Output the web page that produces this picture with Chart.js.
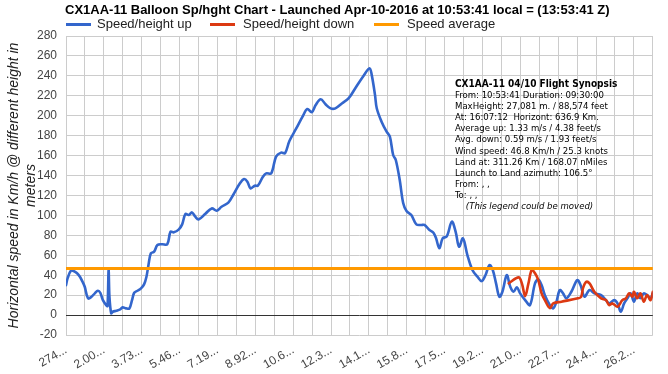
<!DOCTYPE html>
<html>
<head>
<meta charset="utf-8">
<script src="https://cdn.jsdelivr.net/npm/chart.js@4.4.1/dist/chart.umd.min.js"></script>
<style>
  html, body { margin: 0; padding: 0; background: #fff; }
  #wrap { position: relative; width: 668px; height: 374px; overflow: hidden; }
  #chart { position: absolute; left: 0; top: 0; }
  .title { position: absolute; left: 65px; top: 2px; font: bold 13px "Liberation Sans", Arial, sans-serif; color: #000; white-space: nowrap; }
  .leg { position: absolute; top: 16px; font: 13px "Liberation Sans", Arial, sans-serif; color: #222; white-space: nowrap; }
  .leg i { position: absolute; left: 0; top: 7px; width: 25px; height: 3px; }
  .leg span { position: absolute; top: 0; white-space: nowrap; }
  .synopsis { position: absolute; left: 455px; top: 78px; font: 9.5px "DejaVu Sans Condensed", "DejaVu Sans", sans-serif; line-height: 11.1px; color: #000; white-space: pre; }
  .synopsis b { font-weight: bold; font-size: 10px; }
</style>
</head>
<body>
<div id="wrap">
  <canvas id="chart" width="668" height="374"></canvas>
  <div class="title">CX1AA-11 Balloon Sp/hght Chart - Launched Apr-10-2016 at 10:53:41 local = (13:53:41 Z)</div>
  <div class="leg" style="left:66px"><i style="background:#3366cc"></i><span style="left:31px">Speed/height up</span></div>
  <div class="leg" style="left:210px"><i style="background:#dc3912"></i><span style="left:33px">Speed/height down</span></div>
  <div class="leg" style="left:374px"><i style="background:#ff9900"></i><span style="left:33px">Speed average</span></div>
  <div class="synopsis"><b>CX1AA-11 04/10 Flight Synopsis</b>
From: 10:53:41 Duration: 09:30:00
MaxHeight: 27,081 m. / 88,574 feet
At: 16:07:12  Horizont: 636.9 Km.
Average up: 1.33 m/s / 4.38 feet/s
Avg. down: 0.59 m/s / 1.93 feet/s
Wind speed: 46.8 Km/h / 25.3 knots
Land at: 311.26 Km / 168.07 nMiles
Launch to Land azimuth: 106.5°
From: , ,
To: , ,
    <em>(This legend could be moved)</em></div>
</div>
<script>
// height in meters, speed in km/h
const upHeights = [274, 350, 500, 640, 780, 910, 1030, 1130, 1280, 1440, 1590, 1730, 1840, 1960, 2110, 2170, 2220, 2260, 2340, 2410,
  2570, 2750, 2860, 3020, 3170, 3290, 3390, 3540, 3700, 3840, 3950, 4040, 4150, 4300, 4450, 4670, 4900, 5050, 5200, 5430,
  5580, 5730, 5880, 6030, 6180, 6330, 6630, 6930, 7160, 7380, 7690, 7910, 8220, 8410, 8560, 8700, 8900, 9040, 9270, 9420,
  9650, 9870, 10100, 10280, 10480, 10780, 11080, 11300, 11500, 11680, 11910, 12130, 12360, 12580, 12890, 13190, 13490, 13870, 14140, 14240,
  14390, 14470, 14690, 14920, 15070, 15220, 15340, 15520, 15680, 15830, 16050, 16280, 16500, 16650, 16880, 17060, 17180, 17330, 17480, 17670,
  17900, 18080, 18230, 18410, 18610, 18840, 19070, 19260, 19440, 19620, 19770, 19920, 20070, 20210, 20410, 20570, 20720, 20870, 21020, 21250,
  21470, 21700, 21850, 22000, 22150, 22380, 22530, 22680, 22830, 22980, 23130, 23360, 23630, 23780, 23960, 24190, 24410, 24720, 24940, 25090,
  25320, 25470, 25620, 25770, 25920, 26070, 26220, 26370, 26520, 26670, 26820, 26980, 27081];
const upSpeeds = [30, 37, 44.5, 44, 42, 38.5, 33.4, 28.4, 16.8, 18.4, 21.8, 24.4, 22.4, 15, 10, 9, 45, 18, 1.7, 3.3,
  4.3, 5.7, 7.7, 6.7, 6.7, 15, 22.4, 24.4, 26.8, 30.8, 38.5, 50, 62, 63.6, 70.3, 71, 71, 83.6, 83, 86,
  91, 101.4, 100.4, 103, 98.7, 96, 101.4, 107, 104.7, 108.7, 112.8, 120.5, 132.2, 136.5, 133.8, 127.2, 129.8, 129.8, 138.8, 142.2,
  142.2, 159, 163, 162.4, 174.7, 186.7, 199, 206.8, 203.5, 210.8, 216.6, 211.5, 207.4, 207.4, 212.5, 217.6, 227.6, 240.2, 247.7, 241,
  220.9, 207.5, 194, 184, 179, 160.6, 155.6, 135.5, 112.1, 104.4, 100.4, 91, 90.4, 90.4, 85.3, 82.6, 77, 67, 77, 79,
  93.7, 83, 68.6, 77, 60.2, 45.2, 38.5, 34.1, 40.2, 50.2, 45.2, 31.8, 18.4, 23.4, 40, 28.4, 23.4, 27.8, 21.8, 15,
  10, 31.8, 35.8, 30.1, 20, 10, 6.7, 13.4, 25, 21.8, 16.8, 23.4, 35.1, 30.1, 18.4, 25.1, 21.8, 20, 15, 11.7,
  15, 11.7, 3.3, 11.7, 16.8, 21.8, 13.4, 21.8, 16.8, 21.8, 20, 16.8, 21.8];
const downHeights = [20500, 20950, 21100, 21250, 21400, 21550, 21700, 21850, 22000, 22150, 22380, 22530, 22910, 23660, 23810, 23890, 24040, 24190, 24410, 24720,
  24940, 25090, 25240, 25470, 25690, 25850, 26000, 26150, 26220, 26370, 26520, 26670, 26820, 26980, 27081];
const downSpeeds = [31.8, 37.8, 31.8, 19, 31.8, 45.2, 41.9, 35.1, 21.8, 15, 7, 11.7, 13.4, 16.8, 18.4, 26.8, 33.4, 31.8, 23.4, 16.8,
  15, 10, 11.7, 8.4, 15, 16.8, 21.8, 18.4, 23.4, 16.8, 21.8, 13.4, 20, 15, 23.4];
const avgSpeed = 46.8;
const heightRange = [274, 27081];
const xTickLabels = ['274...', '2.00...', '3.73...', '5.46...', '7.19...', '8.92...', '10.6...', '12.3...', '14.1...', '15.8...',
  '17.5...', '19.2...', '21.0...', '22.7...', '24.4...', '26.2...'];
const xGridCount = 31;

const toPoints = (xs, ys) => xs.map((x, i) => ({ x: x, y: ys[i] }));

new Chart(document.getElementById('chart'), {
  type: 'line',
  data: {
    datasets: [
      { label: 'Speed/height up', data: toPoints(upHeights, upSpeeds), borderColor: '#3366cc', borderWidth: 2.6, order: 3 },
      { label: 'Speed/height down', data: toPoints(downHeights, downSpeeds), borderColor: '#dc3912', borderWidth: 2.6, order: 2 },
      { label: 'Speed average', data: heightRange.map(x => ({ x: x, y: avgSpeed })), borderColor: '#ff9900', borderWidth: 3, tension: 0, order: 1 }
    ]
  },
  options: {
    responsive: false,
    animation: false,
    devicePixelRatio: 1,
    layout: { padding: { top: 36, right: 8, left: 0, bottom: 0 } },
    elements: { point: { radius: 0 }, line: { tension: 0.35, borderCapStyle: 'round', borderJoinStyle: 'round' } },
    plugins: { legend: { display: false }, tooltip: { enabled: false } },
    scales: {
      x: {
        type: 'linear',
        min: heightRange[0],
        max: heightRange[1],
        afterBuildTicks: scale => {
          const step = (heightRange[1] - heightRange[0]) / xGridCount;
          scale.ticks = [];
          for (let i = 0; i <= xGridCount; i++) scale.ticks.push({ value: heightRange[0] + i * step });
        },
        afterFit: scale => { scale.height = 39; },
        grid: { color: '#cccccc', drawTicks: false },
        border: { display: false },
        ticks: {
          autoSkip: false,
          minRotation: 30,
          maxRotation: 30,
          padding: 8,
          color: '#444',
          font: { family: '"Liberation Sans", Arial, sans-serif', size: 12 },
          callback: (value, index) => index % 2 === 0 ? xTickLabels[index / 2] : ''
        }
      },
      y: {
        min: -20,
        max: 280,
        afterFit: scale => { scale.width = 66; },
        grid: { color: ctx => ctx.tick.value === 0 ? '#333333' : '#cccccc', drawTicks: false },
        border: { display: false },
        ticks: {
          stepSize: 20,
          padding: 9,
          color: '#444',
          font: { family: '"Liberation Sans", Arial, sans-serif', size: 12 }
        },
        title: {
          display: true,
          text: ['Horizontal speed in Km/h @ different height in', 'meters'],
          color: '#222',
          padding: { top: 5, bottom: 0 },
          font: { family: '"Liberation Sans", Arial, sans-serif', size: 14, style: 'italic', lineHeight: 1.25 }
        }
      }
    }
  }
});
</script>
</body>
</html>
